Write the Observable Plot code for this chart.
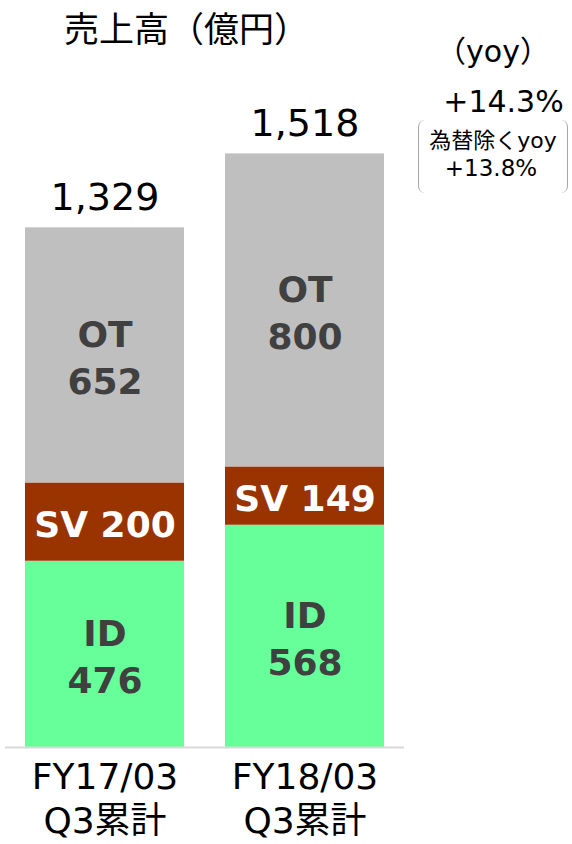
<!DOCTYPE html>
<html>
<head>
<meta charset="utf-8">
<script src="https://cdn.jsdelivr.net/npm/d3@7"></script>
<script src="https://cdn.jsdelivr.net/npm/@observablehq/plot@0.6"></script>
<style>
  html, body { margin: 0; padding: 0; background: #fff; }
  #wrap { position: relative; width: 572px; height: 844px; font-family: "DejaVu Sans", "Noto Sans CJK JP", sans-serif; color: #000; }
  #wrap svg { position: absolute; left: 0; top: 0; }
  .note { position: absolute; white-space: nowrap; text-align: center; }
  .bracket { position: absolute; border-left: 1.5px solid #a6a6a6; border-right: 1.5px solid #a6a6a6; border-radius: 7px; box-sizing: border-box; }
</style>
</head>
<body>
<div id="wrap"></div>
<script>
// ---- data ----
const categories = ["FY17/03\nQ3累計", "FY18/03\nQ3累計"];
const segments = ["ID", "SV", "OT"];
const idValues = [476, 568];
const svValues = [200, 149];
const otValues = [652, 800];
const totals = [1329, 1518];
const title = "売上高（億円）";
const yoyLabel = "（yoy）";
const yoyValue = "+14.3%";
const fxLabel = "為替除くyoy";
const fxValue = "+13.8%";

// ---- palette ----
const segColors = {ID: "#66ff99", SV: "#993300", OT: "#bfbfbf"};
const segTextColors = {ID: "#404040", SV: "#ffffff", OT: "#404040"};

const seriesBySeg = {ID: idValues, SV: svValues, OT: otValues};
const rows = [];
categories.forEach((cat, i) => {
  segments.forEach(seg => {
    rows.push({cat, seg, value: seriesBySeg[seg][i]});
  });
});
const totalRows = categories.map((cat, i) => ({cat, total: totals[i]}));
const fmt = d3.format(",");
const labelOf = d => d.seg === "SV" ? `SV ${d.value}` : `${d.seg}\n${d.value}`;

const chart = Plot.plot({
  width: 572,
  height: 844,
  marginTop: 153,
  marginBottom: 97,
  marginLeft: 5,
  marginRight: 168,
  x: {domain: categories, paddingInner: 0.205, paddingOuter: 0.1, label: null},
  y: {domain: [0, 1518], axis: null},
  color: {type: "identity"},
  style: {fontFamily: "'DejaVu Sans', 'Noto Sans CJK JP', sans-serif", background: "transparent", overflow: "visible"},
  marks: [
    Plot.barY(rows, {x: "cat", y: "value", z: "seg", fill: d => segColors[d.seg]}),
    Plot.ruleY([0], {stroke: "#d9d9d9", strokeWidth: 2}),
    Plot.text(rows, Plot.stackY({
      x: "cat", y: "value", z: "seg",
      text: labelOf,
      fill: d => segTextColors[d.seg],
      fontSize: 36, fontWeight: "bold", lineHeight: 1.32
    })),
    Plot.text(totalRows, {x: "cat", y: "total", text: d => fmt(d.total), dy: -30, fontSize: 38, fill: "#000"}),
    Plot.axisX({tickSize: 0, tickPadding: 11, fontSize: 36, lineHeight: 1.21, lineAnchor: "top", fill: "#000"})
  ]
});

const wrap = document.getElementById("wrap");
wrap.appendChild(chart);

function addNote(text, css) {
  const d = document.createElement("div");
  d.className = "note";
  d.textContent = text;
  Object.assign(d.style, css);
  wrap.appendChild(d);
  return d;
}
addNote(title, {left: "64px", top: "8px", fontSize: "35px", lineHeight: "38px", fontFamily: "'Noto Sans CJK JP', sans-serif"});
addNote(yoyLabel, {left: "423px", width: "140px", top: "36px", fontSize: "30px", lineHeight: "32px"});
addNote(yoyValue, {left: "443px", width: "121px", top: "87px", fontSize: "30px", lineHeight: "30px"});
const br = document.createElement("div");
br.className = "bracket";
Object.assign(br.style, {left: "418px", top: "120px", width: "150px", height: "73px"});
wrap.appendChild(br);
addNote(fxLabel, {left: "418px", width: "150px", top: "128px", fontSize: "22px", lineHeight: "26px"});
addNote(fxValue, {left: "418px", width: "146px", top: "157px", fontSize: "23px", lineHeight: "23px"});
</script>
</body>
</html>
